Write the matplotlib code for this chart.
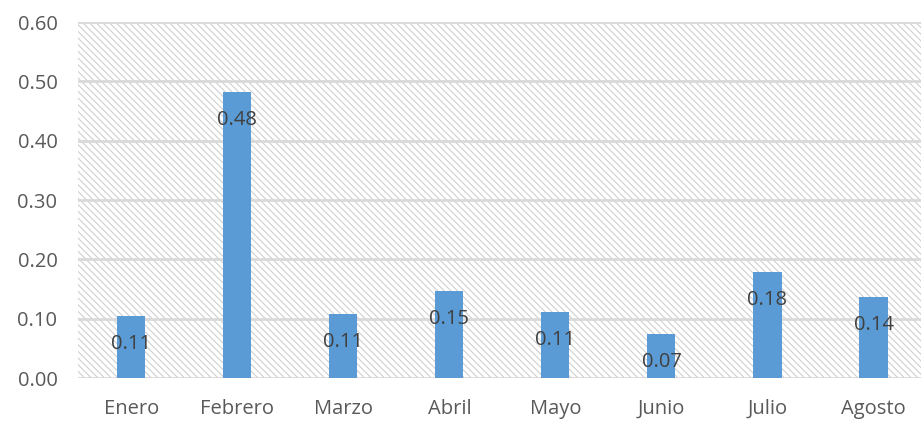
import matplotlib
matplotlib.use('Agg')
import matplotlib.pyplot as plt
from matplotlib.patches import Rectangle

months = ['Enero', 'Febrero', 'Marzo', 'Abril', 'Mayo', 'Junio', 'Julio', 'Agosto']
values = [0.105, 0.482, 0.108, 0.147, 0.111, 0.074, 0.179, 0.137]
labels = ['0.11', '0.48', '0.11', '0.15', '0.11', '0.07', '0.18', '0.14']
yticks = [0.0, 0.1, 0.2, 0.3, 0.4, 0.5, 0.6]

plt.rcParams['font.family'] = ['Open Sans', 'DejaVu Sans']
plt.rcParams['hatch.linewidth'] = 0.8
plt.rcParams['hatch.color'] = '#d0d0d0'

fig = plt.figure(figsize=(9.21, 4.24), dpi=100)
ax = fig.add_axes([0.085, 0.108, 0.921, 0.84])

ax.add_patch(Rectangle((0, 0), 1, 1, transform=ax.transAxes, facecolor='white',
                       edgecolor='#d0d0d0', hatch='\\\\\\\\\\', lw=0, zorder=0))

x = list(range(len(months)))
bars = ax.bar(x, values, width=0.265, color='#5b9bd5', zorder=3)
for b, lab in zip(bars, labels):
    ax.annotate(lab, (b.get_x() + b.get_width() / 2, b.get_height()),
                xytext=(0, -20), textcoords='offset points', ha='center', va='center',
                fontsize=14.5, color='#404040', zorder=4)

ax.set_xlim(-0.5, len(months) - 0.5)
ax.set_ylim(0, 0.6)
ax.set_yticks(yticks)
ax.set_yticklabels([f'{t:.2f}' for t in yticks])
ax.set_xticks(x)
ax.set_xticklabels(months)
ax.yaxis.grid(True, color='#d9d9d9', lw=2, zorder=1)
ax.set_axisbelow(True)
for s in ax.spines.values():
    s.set_visible(False)
ax.tick_params(length=0, colors='#595959', labelsize=14.5)
ax.tick_params(axis='x', pad=15)
ax.tick_params(axis='y', pad=15)

fig.savefig('out.png', dpi=100)
